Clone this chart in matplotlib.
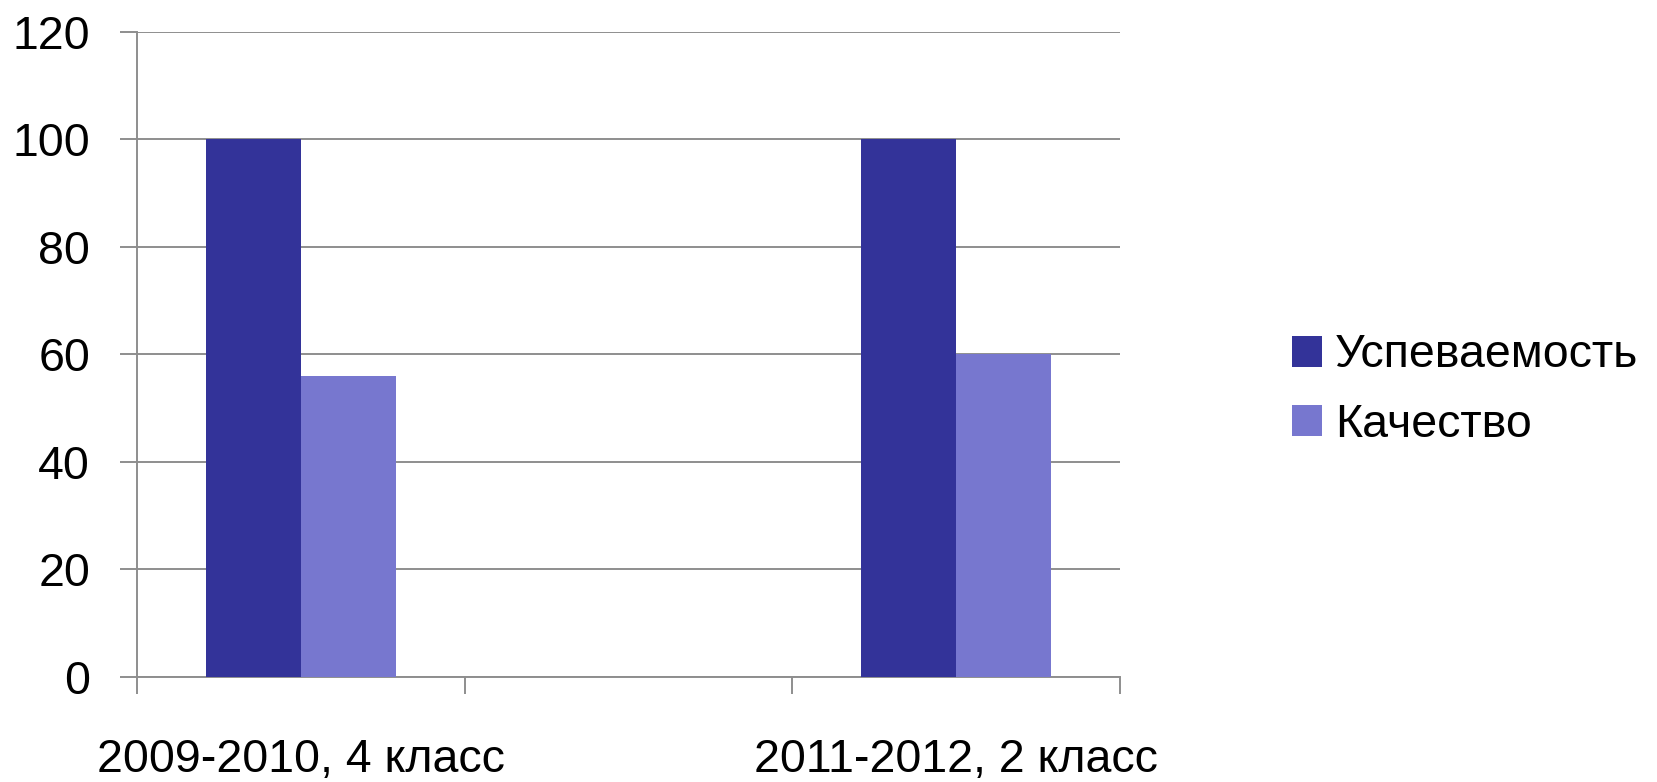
import matplotlib.pyplot as plt
import numpy as np

categories = ['2009-2010, 4 класс', '', '2011-2012, 2 класс']
uspevaemost = [100, np.nan, 100]
kachestvo = [56, np.nan, 60]
series_names = ['Успеваемость', 'Качество']
yticks = [0, 20, 40, 60, 80, 100, 120]

plt.rcParams['font.family'] = ['Liberation Sans', 'DejaVu Sans']
fs = 33.5
grey = '#8e8e8e'

fig = plt.figure(figsize=(16.57, 7.82), dpi=100)
ax = fig.add_axes([0.0827, 0.1343, 0.5932, 0.8248])

x = np.arange(len(categories))
w = 0.29
ax.bar(x - w / 2, uspevaemost, w, color='#333399', label=series_names[0], zorder=3)
ax.bar(x + w / 2, kachestvo, w, color='#7777CF', label=series_names[1], zorder=3)

ax.set_xlim(-0.5, len(categories) - 0.5)
ax.set_ylim(0, 120)
ax.set_yticks(yticks)
ax.yaxis.grid(True, color=grey, linewidth=1.4, zorder=0)

ax.set_xticks(x)
ax.set_xticklabels(categories)
ax.set_xticks(np.arange(len(categories) + 1) - 0.5, minor=True)
ax.tick_params(axis='x', which='major', length=0, pad=44, labelsize=fs)
ax.tick_params(axis='x', which='minor', length=12.2, width=1.4, color=grey)
ax.tick_params(axis='y', length=12.2, width=1.4, color=grey, pad=21.6, labelsize=fs)

for s in ['top', 'right']:
    ax.spines[s].set_visible(False)
for s in ['left', 'bottom']:
    ax.spines[s].set_color(grey)
    ax.spines[s].set_linewidth(1.4)

fig.legend(loc='center left', bbox_to_anchor=(0.7684, 0.501), frameon=False,
           borderaxespad=0, fontsize=fs, handlelength=0.645, handleheight=0.645,
           handletextpad=0.28, labelspacing=0.55)

fig.savefig('out.png', dpi=100)
